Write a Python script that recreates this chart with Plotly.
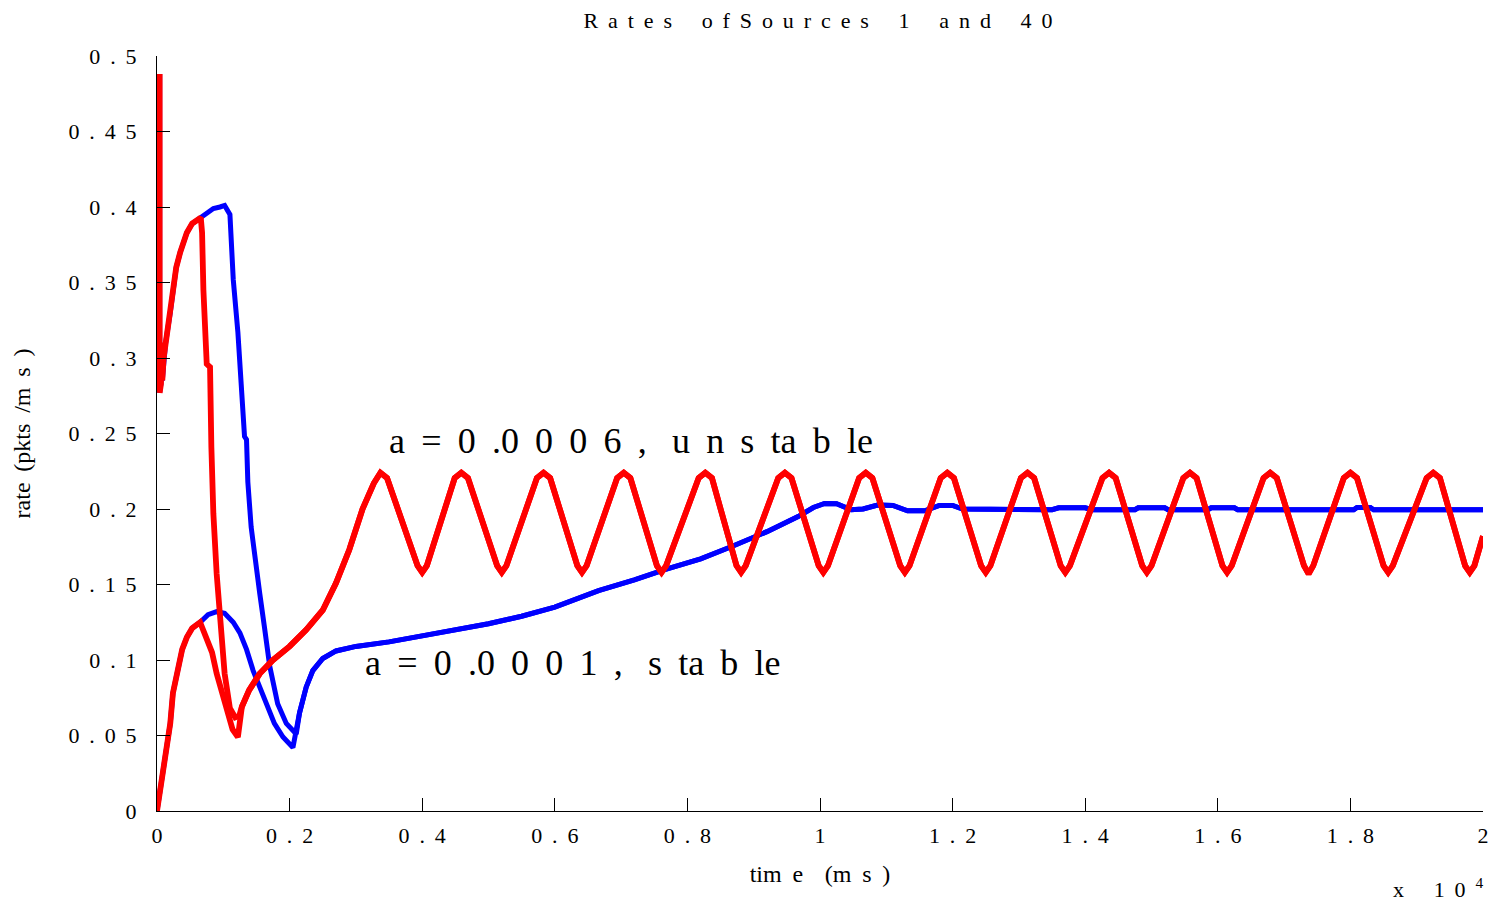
import plotly.graph_objects as go

# ---------------- data (time in units of 10^4 ms, rate in pkts/ms) ----------------
# a = 0.0006 (unstable) : source 1 (starts high) and source 40 (starts at 0)
RED_S1_T = [0.004, 0.004, 0.006, 0.007, 0.008, 0.010, 0.013, 0.020, 0.025, 0.029, 0.035,
            0.040, 0.045, 0.053, 0.060, 0.066, 0.068, 0.070, 0.075, 0.080, 0.082, 0.085,
            0.090, 0.095, 0.102, 0.110, 0.118, 0.124]
RED_S1_Y = [0.488, 0.277, 0.283, 0.310, 0.285, 0.300, 0.310, 0.330, 0.345, 0.360, 0.370,
            0.378, 0.383, 0.389, 0.391, 0.393, 0.383, 0.345, 0.296, 0.294, 0.241, 0.197,
            0.157, 0.131, 0.091, 0.068, 0.062, 0.063]
RED_S40_T = [0.000, 0.003, 0.009, 0.015, 0.020, 0.024, 0.030, 0.038, 0.045, 0.053, 0.065,
             0.075, 0.083, 0.090, 0.098, 0.107, 0.114, 0.122]
RED_S40_Y = [0.000, 0.009, 0.025, 0.040, 0.058, 0.078, 0.091, 0.107, 0.115, 0.121, 0.125,
             0.115, 0.105, 0.091, 0.078, 0.062, 0.054, 0.049]
# common part of both a = 0.0006 sources after they merge
RED_COMMON_T = [0.128, 0.139, 0.155, 0.175, 0.200, 0.225, 0.250, 0.270, 0.290, 0.310, 0.327, 0.337,
                0.347, 0.393, 0.400, 0.407, 0.449, 0.459, 0.469, 0.513, 0.520, 0.527,
                0.573, 0.583, 0.593, 0.634, 0.641, 0.648, 0.694, 0.704, 0.714, 0.754, 0.761, 0.768,
                0.817, 0.827, 0.837, 0.874, 0.881, 0.888, 0.937, 0.947, 0.957, 0.998, 1.005, 1.012,
                1.059, 1.069, 1.079, 1.121, 1.128, 1.135, 1.182, 1.192, 1.202, 1.243, 1.250, 1.257,
                1.303, 1.313, 1.323, 1.363, 1.370, 1.377, 1.426, 1.436, 1.446, 1.486, 1.493, 1.500,
                1.548, 1.558, 1.568, 1.607, 1.614, 1.621, 1.669, 1.679, 1.689, 1.730, 1.737, 1.744,
                1.790, 1.800, 1.810, 1.850, 1.857, 1.864, 1.915, 1.925, 1.935, 1.973, 1.980, 1.987,
                2.000]
RED_COMMON_Y = [0.069, 0.080, 0.091, 0.100, 0.109, 0.120, 0.133, 0.151, 0.173, 0.200, 0.217, 0.224,
                0.2205, 0.1625, 0.158, 0.1625, 0.2205, 0.224, 0.2205, 0.1625, 0.158, 0.1625,
                0.2205, 0.224, 0.2205, 0.1625, 0.158, 0.1625, 0.2205, 0.224, 0.2205, 0.1625, 0.158, 0.1625,
                0.2205, 0.224, 0.2205, 0.1625, 0.158, 0.1625, 0.2205, 0.224, 0.2205, 0.1625, 0.158, 0.1625,
                0.2205, 0.224, 0.2205, 0.1625, 0.158, 0.1625, 0.2205, 0.224, 0.2205, 0.1625, 0.158, 0.1625,
                0.2205, 0.224, 0.2205, 0.1625, 0.158, 0.1625, 0.2205, 0.224, 0.2205, 0.1625, 0.158, 0.1625,
                0.2205, 0.224, 0.2205, 0.1625, 0.158, 0.1625, 0.2205, 0.224, 0.2205, 0.1625, 0.157, 0.1625,
                0.2205, 0.224, 0.2205, 0.1625, 0.158, 0.1625, 0.2205, 0.224, 0.2205, 0.1625, 0.158, 0.1625,
                0.182]

# a = 0.0001 (stable)
BLUE_S1_T = [0.004, 0.004, 0.006, 0.007, 0.008, 0.010, 0.013, 0.020, 0.025, 0.029, 0.035,
             0.040, 0.045, 0.053, 0.060, 0.066, 0.075, 0.085, 0.095, 0.102, 0.110, 0.112,
             0.115, 0.122, 0.127, 0.132, 0.135, 0.137, 0.142, 0.150, 0.155, 0.162, 0.170,
             0.182, 0.195, 0.210]
BLUE_S1_Y = [0.488, 0.277, 0.283, 0.310, 0.285, 0.300, 0.310, 0.330, 0.345, 0.360, 0.370,
             0.378, 0.383, 0.389, 0.391, 0.393, 0.396, 0.399, 0.400, 0.401, 0.395, 0.377,
             0.352, 0.317, 0.282, 0.248, 0.246, 0.218, 0.188, 0.164, 0.144, 0.122, 0.096,
             0.071, 0.058, 0.051]
BLUE_S40_T = [0.000, 0.003, 0.009, 0.015, 0.020, 0.024, 0.030, 0.038, 0.045, 0.053, 0.065,
              0.077, 0.090, 0.102, 0.115, 0.125, 0.135, 0.145, 0.155, 0.165, 0.177, 0.190, 0.205]
BLUE_S40_Y = [0.000, 0.009, 0.025, 0.040, 0.058, 0.078, 0.091, 0.107, 0.115, 0.121, 0.125,
              0.130, 0.132, 0.131, 0.125, 0.118, 0.107, 0.093, 0.082, 0.071, 0.058, 0.049, 0.042]
BLUE_COMMON_T = [0.215, 0.225, 0.235, 0.250, 0.270, 0.300, 0.350, 0.400, 0.450, 0.500, 0.550,
                 0.600, 0.666, 0.720, 0.767, 0.820, 0.866, 0.920, 0.967, 0.990, 1.007, 1.025,
                 1.047, 1.065, 1.087, 1.110, 1.132, 1.158, 1.180, 1.200, 1.215, 1.260, 1.270,
                 1.350, 1.360, 1.400, 1.410, 1.475, 1.480, 1.520, 1.525, 1.585, 1.590, 1.625,
                 1.630, 1.805, 1.810, 1.830, 1.835, 2.000]
BLUE_COMMON_Y = [0.065, 0.082, 0.093, 0.101, 0.106, 0.109, 0.112, 0.116, 0.120, 0.124, 0.129,
                 0.135, 0.146, 0.153, 0.160, 0.167, 0.175, 0.185, 0.195, 0.201, 0.2037, 0.2035,
                 0.1995, 0.2000, 0.2026, 0.2024, 0.1988, 0.1988, 0.2024, 0.2024, 0.2000, 0.2000, 0.1995,
                 0.1995, 0.2008, 0.2008, 0.1995, 0.1995, 0.2008, 0.2008, 0.1995, 0.1995, 0.2008, 0.2008,
                 0.1995, 0.1995, 0.2010, 0.2010, 0.1995, 0.1995]

X_TICKS = [0, 0.2, 0.4, 0.6, 0.8, 1.0, 1.2, 1.4, 1.6, 1.8, 2.0]
X_TICK_LABELS = ["0", "0 . 2", "0 . 4", "0 . 6", "0 . 8", "1", "1 . 2", "1 . 4", "1 . 6", "1 . 8", "2"]
Y_TICKS = [0, 0.05, 0.1, 0.15, 0.2, 0.25, 0.3, 0.35, 0.4, 0.45, 0.5]
Y_TICK_LABELS = ["0", "0 . 0 5", "0 . 1", "0 . 1 5", "0 . 2", "0 . 2 5", "0 . 3", "0 . 3 5",
                 "0 . 4", "0 . 4 5", "0 . 5"]

TITLE = "R a t e s   o f S o u r c e s   1   a n d   4 0"
X_TITLE = "tim e  (m s )"
Y_TITLE = "rate (pkts /m s )"
LABEL_UNSTABLE = "a = 0 .0 0 0 6 ,\u00a0 u n s ta b le"
LABEL_STABLE = "a = 0 .0 0 0 1 ,\u00a0 s ta b le"
EXPONENT_BASE = "x   1 0 "
EXPONENT = "4"

GAP = "\u00a0\u2009"


def spaced(s):
    return s.replace(" ", GAP)


FONT = "Liberation Serif, Times New Roman, serif"
RED = "#ff0000"
BLUE = "#0000ff"

fig = go.Figure()
fig.add_trace(go.Scatter(x=BLUE_S1_T + BLUE_COMMON_T, y=BLUE_S1_Y + BLUE_COMMON_Y, mode="lines",
                         line=dict(color=BLUE, width=5), name="source 1, a=0.0001"))
fig.add_trace(go.Scatter(x=BLUE_S40_T + BLUE_COMMON_T, y=BLUE_S40_Y + BLUE_COMMON_Y, mode="lines",
                         line=dict(color=BLUE, width=5), name="source 40, a=0.0001"))
fig.add_trace(go.Scatter(x=RED_S1_T + RED_COMMON_T, y=RED_S1_Y + RED_COMMON_Y, mode="lines",
                         line=dict(color=RED, width=5.8), name="source 1, a=0.0006"))
fig.add_trace(go.Scatter(x=RED_S40_T + RED_COMMON_T, y=RED_S40_Y + RED_COMMON_Y, mode="lines",
                         line=dict(color=RED, width=5.8), name="source 40, a=0.0006"))

axis_common = dict(showline=True, linecolor="black", linewidth=1, mirror=False,
                   ticks="inside", ticklen=13, tickwidth=1, tickcolor="black",
                   showgrid=False, zeroline=False,
                   tickfont=dict(family=FONT, size=22, color="black"))

fig.update_layout(
    width=1498, height=901,
    margin=dict(l=157, r=9, t=56, b=90),
    paper_bgcolor="white", plot_bgcolor="white",
    showlegend=False,
    title=dict(text=spaced(TITLE), x=818 / 1498, xref="container", xanchor="center",
               y=1 - 20 / 901, yref="container", yanchor="middle",
               font=dict(family=FONT, size=22, color="black")),
    xaxis=dict(range=[0, 2], tickvals=X_TICKS, ticktext=[spaced(t) for t in X_TICK_LABELS],
               ticklabelstandoff=5,
               title=dict(text=spaced(X_TITLE), standoff=17,
                          font=dict(family=FONT, size=24, color="black")),
               **axis_common),
    yaxis=dict(range=[0, 0.5], tickvals=Y_TICKS, ticktext=[spaced(t) for t in Y_TICK_LABELS],
               ticklabelstandoff=15,
               title=dict(text=spaced(Y_TITLE), standoff=30,
                          font=dict(family=FONT, size=24, color="black")),
               **axis_common),
)

fig.add_annotation(x=0.347, y=0.245, xref="x", yref="y", text=spaced(LABEL_UNSTABLE),
                   showarrow=False, xanchor="left", yanchor="middle",
                   font=dict(family=FONT, size=36, color="black"))
fig.add_annotation(x=0.31, y=0.098, xref="x", yref="y", text=spaced(LABEL_STABLE),
                   showarrow=False, xanchor="left", yanchor="middle",
                   font=dict(family=FONT, size=36, color="black"))
fig.add_annotation(x=(1397 - 157) / 1332, y=(811 - 888) / 755, xref="paper", yref="paper",
                   text=spaced(EXPONENT_BASE) + "<sup>" + EXPONENT + "</sup>",
                   showarrow=False, xanchor="left", yanchor="middle",
                   font=dict(family=FONT, size=22, color="black"))

fig.write_html("out.html")
